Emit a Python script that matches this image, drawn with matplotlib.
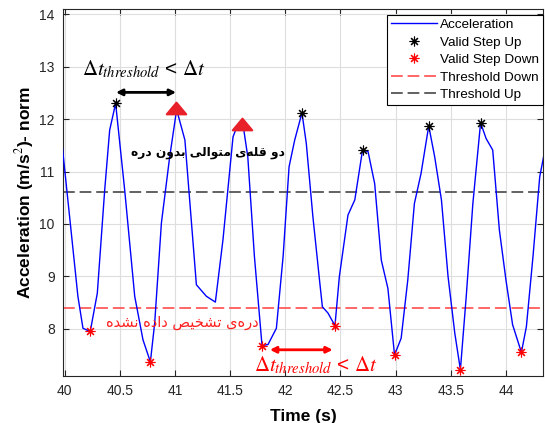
import matplotlib
matplotlib.use("Agg")
import matplotlib.pyplot as plt
from matplotlib.path import Path
import numpy as np

# ---------------- data ----------------
time_s = [39.975, 40.12, 40.166, 40.232, 40.296, 40.363, 40.408, 40.462, 40.544, 40.635,
          40.71, 40.777, 40.816, 40.877, 40.952, 41.015, 41.09, 41.194, 41.285, 41.366,
          41.435, 41.526, 41.56, 41.617, 41.66, 41.72, 41.789, 41.843, 41.919, 41.98,
          42.034, 42.085, 42.151, 42.19, 42.25, 42.31, 42.336, 42.387, 42.45, 42.49,
          42.568, 42.63, 42.70, 42.75, 42.81, 42.87, 42.93, 42.99, 43.05, 43.11,
          43.17, 43.23, 43.30, 43.354, 43.415, 43.475, 43.536, 43.587, 43.64, 43.70,
          43.77, 43.82, 43.88, 43.94, 44.0, 44.06, 44.14, 44.185, 44.245, 44.306, 44.35]
accel = [11.55, 8.62, 8.01, 7.95, 8.68, 10.65, 11.79, 12.30, 10.65, 8.62,
         7.79, 7.37, 8.11, 10.02, 11.28, 12.18, 11.6, 8.84, 8.62, 8.51,
         9.70, 11.66, 11.85, 11.89, 11.28, 9.38, 7.68, 7.70, 8.01, 9.38,
         11.09, 11.6, 12.12, 11.54, 10.14, 8.93, 8.42, 8.30, 8.06, 9.0,
         10.17, 10.46, 11.41, 11.38, 10.77, 9.31, 8.77, 7.50, 7.82, 8.93,
         10.39, 10.96, 11.87, 11.28, 10.46, 9.0, 7.92, 7.22, 8.62, 10.39,
         11.93, 11.63, 11.41, 9.89, 8.93, 8.08, 7.55, 8.04, 9.38, 10.90, 11.38]

step_up_t = [40.462, 42.151, 42.70, 43.30, 43.77]
step_up_y = [12.30, 12.12, 11.41, 11.87, 11.93]
step_down_t = [40.232, 40.777, 41.789, 42.45, 42.99, 43.587, 44.14]
step_down_y = [7.95, 7.37, 7.68, 8.06, 7.50, 7.22, 7.55]

missed_peak_t = [41.005, 41.605]
missed_peak_y = [12.22, 11.90]

threshold_up = 10.61
threshold_down = 8.40

x_ticks = [40, 40.5, 41, 41.5, 42, 42.5, 43, 43.5, 44]
x_tick_labels = ["40", "40.5", "41", "41.5", "42", "42.5", "43", "43.5", "44"]
y_ticks = [8, 9, 10, 11, 12, 13, 14]
y_tick_labels = ["8", "9", "10", "11", "12", "13", "14"]

legend_labels = ["Acceleration", "Valid Step Up", "Valid Step Down",
                 "Threshold Down", "Threshold Up"]
note_peaks = "دو قله‌ی متوالی بدون دره"
note_valley = "دره‌ی تشخیص داده نشده"
delta_text = r"$\Delta t_{threshold}$ < $\Delta t$"

# ------------- simple Persian shaping (no layout engine in matplotlib) -------------
FORMS = {
    'ا': ('\uFE8D', '\uFE8E', None, None),
    'ب': ('\uFE8F', '\uFE90', '\uFE91', '\uFE92'),
    'ت': ('\uFE95', '\uFE96', '\uFE97', '\uFE98'),
    'خ': ('\uFEA5', '\uFEA6', '\uFEA7', '\uFEA8'),
    'د': ('\uFEA9', '\uFEAA', None, None),
    'ر': ('\uFEAD', '\uFEAE', None, None),
    'ش': ('\uFEB5', '\uFEB6', '\uFEB7', '\uFEB8'),
    'ص': ('\uFEB9', '\uFEBA', '\uFEBB', '\uFEBC'),
    'ق': ('\uFED5', '\uFED6', '\uFED7', '\uFED8'),
    'ل': ('\uFEDD', '\uFEDE', '\uFEDF', '\uFEE0'),
    'م': ('\uFEE1', '\uFEE2', '\uFEE3', '\uFEE4'),
    'ن': ('\uFEE5', '\uFEE6', '\uFEE7', '\uFEE8'),
    'ه': ('\uFEE9', '\uFEEA', '\uFEEB', '\uFEEC'),
    'و': ('\uFEED', '\uFEEE', None, None),
    'ی': ('\uFBFC', '\uFBFD', '\uFBFE', '\uFBFF'),
}
DUAL = {k for k, v in FORMS.items() if v[2] is not None}


def shape(text):
    out = []
    for i, c in enumerate(text):
        if c not in FORMS:
            out.append(c)
            continue
        prev = text[i - 1] if i > 0 else None
        nxt = text[i + 1] if i + 1 < len(text) else None
        jp = prev in DUAL
        jn = (c in DUAL) and (nxt in FORMS)
        iso, fin, ini, med = FORMS[c]
        if jp and jn:
            out.append(med)
        elif jp:
            out.append(fin)
        elif jn:
            out.append(ini)
        else:
            out.append(iso)
    s = "".join(ch for ch in out if ch != '\u200c')
    return s[::-1]


# ---------------- figure ----------------
plt.rcParams['font.family'] = ['Liberation Sans', 'DejaVu Sans']
plt.rcParams['mathtext.fontset'] = 'stix'

fig = plt.figure(figsize=(5.45, 4.23), dpi=100)
ax = fig.add_axes([0.1156, 0.1111, 0.8816, 0.8676])

frame_col = '#262626'
grid_col = '#dedede'

ast = (8, 2, 0)

l1, = ax.plot(time_s, accel, color='#0000ff', lw=1.0, zorder=3)
l2, = ax.plot(step_up_t, step_up_y, ls='none', marker=ast, ms=7, mew=0.8,
              color='black', zorder=5)
l3, = ax.plot(step_down_t, step_down_y, ls='none', marker=ast, ms=7, mew=0.8,
              color='red', zorder=5)
l4 = ax.axhline(threshold_down, color='#ff5a5a', lw=1.3, dashes=(6.5, 2.7), zorder=2)
l5 = ax.axhline(threshold_up, color='#555555', lw=1.3, dashes=(6.5, 2.7), zorder=2)

tri = Path([(-1, -0.6), (1, -0.6), (0, 0.6), (-1, -0.6)],
           [Path.MOVETO, Path.LINETO, Path.LINETO, Path.CLOSEPOLY])
ax.plot(missed_peak_t, missed_peak_y, ls='none', marker=tri, ms=14,
        color='#e8202a', mec='#e8202a', mew=1.5, zorder=6)

ax.set_xlim(39.985, 44.34)
ax.set_ylim(7.1, 14.1)
ax.set_xticks(x_ticks)
ax.set_xticklabels(x_tick_labels)
ax.set_yticks(y_ticks)
ax.set_yticklabels(y_tick_labels)
ax.grid(True, color=grid_col, lw=0.8, zorder=0)
ax.set_axisbelow(True)
ax.tick_params(direction='in', top=True, right=True, length=4, width=0.8,
               colors=frame_col, labelsize=10, pad=6)
for sp in ax.spines.values():
    sp.set_color(frame_col)
    sp.set_linewidth(0.8)

ax.set_xlabel("Time (s)", fontsize=12.5, fontweight='bold', color='black', labelpad=8)
ax.set_ylabel("Acceleration (m/s$^2$)- norm", fontsize=12.5, fontweight='bold',
              color='black', labelpad=2)

leg = ax.legend([l1, l2, l3, l4, l5], legend_labels, loc='upper right',
                bbox_to_anchor=(0.999, 0.985), borderaxespad=0, fontsize=9.7,
                handlelength=3.4, handletextpad=0.25, labelspacing=0.38,
                borderpad=0.3, fancybox=False, framealpha=1, edgecolor='black')
leg.get_frame().set_linewidth(0.8)

# annotations
ax.annotate("", xy=(40.465, 12.51), xytext=(41.01, 12.51),
            arrowprops=dict(arrowstyle='<|-|>', color='black', lw=2, mutation_scale=9,
                            shrinkA=0, shrinkB=0), zorder=7)
ax.text(40.72, 12.95, delta_text, fontsize=15, color='black', ha='center', va='center')

ax.annotate("", xy=(41.86, 7.6), xytext=(42.43, 7.6),
            arrowprops=dict(arrowstyle='<|-|>', color='red', lw=2, mutation_scale=9,
                            shrinkA=0, shrinkB=0), zorder=7)
ax.text(42.28, 7.3, delta_text, fontsize=15, color='red', ha='center', va='center')

ax.text(41.3, 11.36, shape(note_peaks), fontsize=8.8, fontweight='bold',
        color='black', ha='center', va='center', family=['DejaVu Sans'])
ax.text(41.07, 8.12, shape(note_valley), fontsize=10.5, color='#ff2020',
        ha='center', va='center', family=['DejaVu Sans'])

fig.savefig("out.png", dpi=100)
